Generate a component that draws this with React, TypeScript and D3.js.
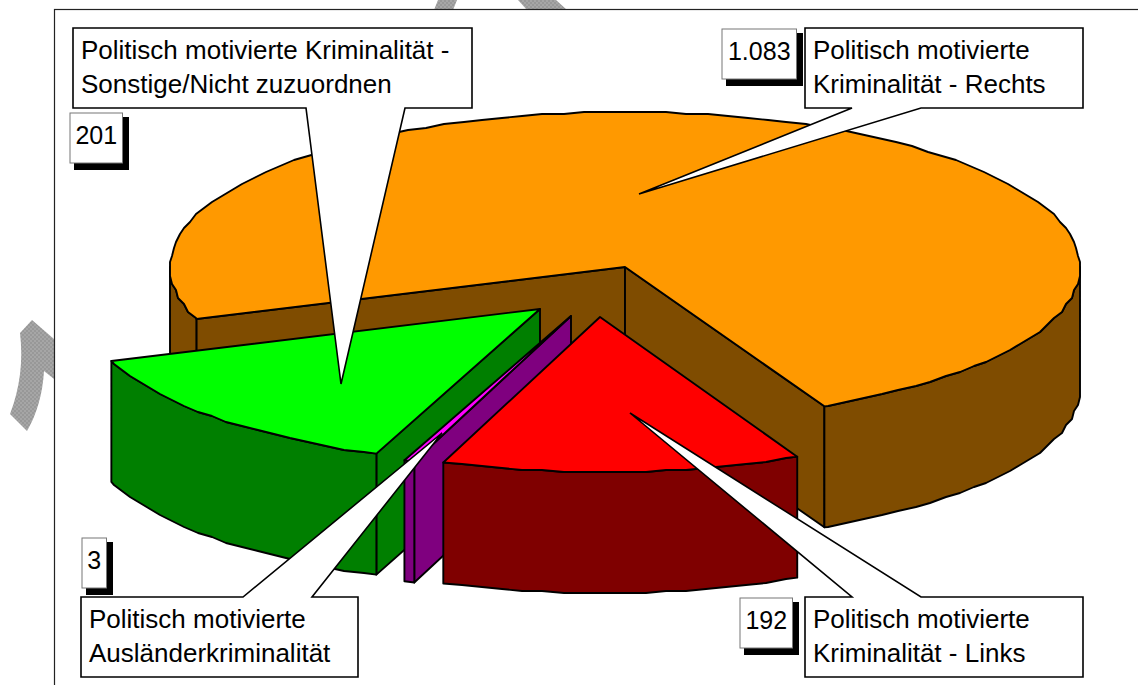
import React, { useEffect, useRef } from "react";
import * as d3 from "d3";

// values in pie order, clockwise from the left edge of the big slice
const categories = [
  ["Politisch motivierte", "Kriminalität - Rechts"],
  ["Politisch motivierte", "Kriminalität - Links"],
  ["Politisch motivierte", "Ausländerkriminalität"],
  ["Politisch motivierte Kriminalität -", "Sonstige/Nicht zuzuordnen"],
];
const values = [1083, 192, 3, 201];
const topColors = ["#ff9900", "#ff0000", "#ff00ff", "#00ff00"];
const sideColors = ["#7f4c00", "#7f0000", "#7f007f", "#007f00"];

const W = 1138;
const H = 685;
const cx = 625;
const cy = 267;
const rx = 455;
const ry = 155;
const depth = 121;
const rad = (deg: number) => (deg * Math.PI) / 180;
const start = rad(-109.6);
const minSweep = rad(1.25); // the 3-case slice would be nearly invisible otherwise
const arcStep = rad(2.6);

// how far each slice is pulled out of the pie
const explode = [
  [0, 0],
  [-25, 50],
  [-54, 49],
  [-85, 42],
];
// small corrections of the slice edges in degrees, the original projection is not quite elliptical
const edgeNudge = [
  [0, 0],
  [0.3, -0.6],
  [-0.6, 0],
  [-0.4, 0],
];
const drawOrder = [0, 3, 2, 1];

// text boxes with their pointer: [x0, y0, x1, y1], pointer base on the edge closest to the pie, then tip
const callouts = [
  { box: [805, 28, 1083, 108], base: [852, 921], tip: [639, 194] },
  { box: [805, 597, 1083, 677], base: [852, 921], tip: [630, 413] },
  { box: [81, 597, 358, 677], base: [243, 312], tip: [442, 433] },
  { box: [73, 28, 472, 108], base: [306, 405], tip: [341, 384] },
];
const valueBoxes = [
  [722, 29, 796.5, 79],
  [740, 598, 792.5, 648],
  [82, 538, 106.5, 588],
  [70, 113, 122.5, 163],
];

const App: React.FC = () => {
  const svgRef = useRef<SVGSVGElement | null>(null);

  useEffect(() => {
    const svg = d3.select(svgRef.current);
    svg.selectAll("*").remove();

    const fontFamily = "'Liberation Sans', Arial, sans-serif";
    const xScale = d3.scaleLinear().domain([-1, 1]).range([cx - rx, cx + rx]);
    const yScale = d3.scaleLinear().domain([-1, 1]).range([cy + ry, cy - ry]);
    const fmt = d3.formatLocale({ decimal: ",", thousands: ".", grouping: [3], currency: ["", ""] }).format(",");
    const line = d3.line();

    // background watermark
    const pattern = svg
      .append("defs")
      .append("pattern")
      .attr("id", "hatch")
      .attr("width", 4)
      .attr("height", 4)
      .attr("patternUnits", "userSpaceOnUse");
    pattern.append("rect").attr("width", 4).attr("height", 4).attr("fill", "#a6a6a6");
    pattern.append("rect").attr("width", 2).attr("height", 2).attr("fill", "#989898");
    pattern.append("rect").attr("x", 2).attr("y", 2).attr("width", 2).attr("height", 2).attr("fill", "#989898");

    const leftMark = d3.path();
    leftMark.moveTo(32, 320);
    leftMark.lineTo(54, 339);
    leftMark.lineTo(54, 379);
    leftMark.lineTo(44, 371);
    leftMark.quadraticCurveTo(42, 405, 27, 431);
    leftMark.lineTo(10, 414);
    leftMark.quadraticCurveTo(25, 375, 20, 333);
    leftMark.closePath();
    svg.append("path").attr("d", leftMark.toString()).attr("fill", "url(#hatch)");
    svg.append("path").attr("d", line([[438, 0], [457, 0], [453, 10], [434, 10]])! + "Z").attr("fill", "url(#hatch)");
    svg.append("path").attr("d", line([[518, 0], [556, 0], [567, 10], [527, 10]])! + "Z").attr("fill", "url(#hatch)");

    // frame runs off the page on the right and bottom
    svg
      .append("rect")
      .attr("x", 54.5)
      .attr("y", 9.5)
      .attr("width", W)
      .attr("height", H)
      .attr("fill", "none")
      .attr("stroke", "#222")
      .attr("stroke-width", 1.2);

    const pie = d3.pie<number>().sort(null).startAngle(start).endAngle(start + 2 * Math.PI);
    const arcs = pie(values);

    const at = (a: number, i: number): [number, number] => [
      xScale(Math.sin(a)) + explode[i][0],
      yScale(Math.cos(a)) + explode[i][1],
    ];
    const down = (p: [number, number]): [number, number] => [p[0], p[1] + depth];

    // the original export has coarse, stepped arcs; samples sit on fixed angles so wall and top agree
    const snap = (v: number) => Math.round(v / 2) * 2;
    const arcPoints = (a0: number, a1: number, i: number) => {
      const inner = d3
        .range(Math.ceil(a0 / arcStep + 0.05), Math.floor(a1 / arcStep - 0.05) + 1)
        .map((k) => {
          const p = at(k * arcStep, i);
          return [snap(p[0]), snap(p[1])] as [number, number];
        });
      return [at(a0, i), ...inner, at(a1, i)];
    };

    const shape = (pts: [number, number][], fill: string) =>
      svg
        .append("path")
        .attr("d", line(pts)! + "Z")
        .attr("fill", fill)
        .attr("stroke", "#000")
        .attr("stroke-width", 1.9)
        .attr("stroke-linejoin", "round");

    drawOrder.forEach((i) => {
      const d = arcs[i];
      const a0 = d.startAngle + rad(edgeNudge[i][0]);
      const a1 = Math.max(d.endAngle + rad(edgeNudge[i][1]), a0 + minSweep);
      const centre: [number, number] = [cx + explode[i][0], cy + explode[i][1]];

      // cut faces that look towards the viewer
      [a0, a1].forEach((a, side) => {
        const visible = side === 0 ? Math.sin(a) < 0 : Math.sin(a) > 0;
        if (!visible) return;
        shape([centre, at(a, i), down(at(a, i)), down(centre)], sideColors[i]);
      });

      // outer wall, only the front half of the ellipse
      [[rad(-270), rad(-90)], [rad(90), rad(270)]].forEach(([f0, f1]) => {
        const w0 = Math.max(a0, f0);
        const w1 = Math.min(a1, f1);
        if (w1 <= w0) return;
        const rim = arcPoints(w0, w1, i);
        shape([...rim, ...rim.map(down).reverse()], sideColors[i]);
      });

      shape([centre, ...arcPoints(a0, a1, i)], topColors[i]);
    });

    // text boxes with pointers
    callouts.forEach((c, i) => {
      const [x0, y0, x1, y1] = c.box;
      const pointsDown = c.tip[1] > y1;
      const edge = pointsDown ? y1 : y0;
      const pts: [number, number][] = pointsDown
        ? [[x0, y0], [x1, y0], [x1, y1], [c.base[1], edge], [c.tip[0], c.tip[1]], [c.base[0], edge], [x0, y1]]
        : [[x0, y0], [c.base[0], edge], [c.tip[0], c.tip[1]], [c.base[1], edge], [x1, y0], [x1, y1], [x0, y1]];
      svg
        .append("path")
        .attr("d", line(pts)! + "Z")
        .attr("fill", "#fff")
        .attr("stroke", "#000")
        .attr("stroke-width", 1.6);

      const label = svg.append("text").attr("font-family", fontFamily).attr("font-size", 26).attr("fill", "#000");
      categories[i].forEach((t, k) => {
        label
          .append("tspan")
          .attr("x", x0 + 8)
          .attr("y", y0 + 31 + k * 34)
          .text(t);
      });
    });

    // value tags with a hard shadow
    valueBoxes.forEach((b, i) => {
      const [x0, y0, x1, y1] = b;
      svg
        .append("rect")
        .attr("x", x0 + 4)
        .attr("y", y0 + 4)
        .attr("width", x1 - x0 + 2.5)
        .attr("height", y1 - y0 + 3)
        .attr("fill", "#000");
      svg
        .append("rect")
        .attr("x", x0)
        .attr("y", y0)
        .attr("width", x1 - x0)
        .attr("height", y1 - y0)
        .attr("fill", "#fff")
        .attr("stroke", "#777")
        .attr("stroke-width", 1);
      svg
        .append("text")
        .attr("x", (x0 + x1) / 2)
        .attr("y", y0 + 31)
        .attr("text-anchor", "middle")
        .attr("font-family", fontFamily)
        .attr("font-size", 25)
        .attr("fill", "#000")
        .text(fmt(values[i]));
    });
  }, []);

  return (
    <svg
      ref={svgRef}
      width={W}
      height={H}
      style={{ position: "absolute", top: 0, left: 0, display: "block", background: "#fff" }}
    />
  );
};

export default App;
